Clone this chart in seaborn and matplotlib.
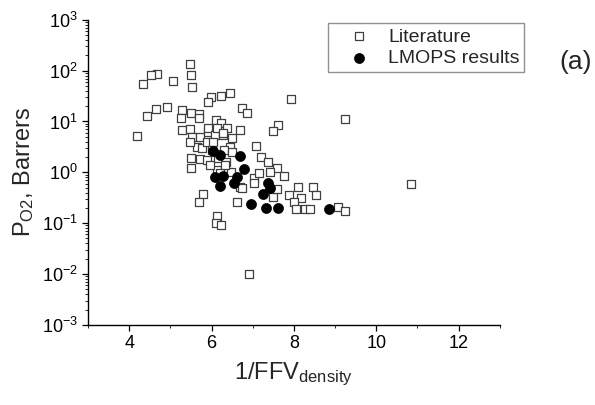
import numpy as np
import pandas as pd
import matplotlib
matplotlib.use("Agg")
import matplotlib.pyplot as plt
from matplotlib.ticker import MultipleLocator, LogLocator, FuncFormatter, NullFormatter
import seaborn as sns

# Literature data: inverse fractional free volume vs O2 permeability (Barrers)
lit_inv_ffv = [
    5.47, 5.49, 5.52, 4.67, 4.53, 4.33, 5.06, 5.98, 5.91, 6.24, 6.44, 7.92,
    6.75, 6.85, 4.91, 4.65, 4.43, 5.28, 5.25, 5.49, 5.69, 5.69, 6.10, 6.24,
    4.19, 5.28, 5.47, 5.52, 5.71, 5.91, 5.91, 6.08, 6.12, 6.37, 6.49, 6.27,
    6.70, 7.62, 7.50, 9.25, 7.07, 6.44, 5.64, 5.76, 7.19, 7.36, 5.49, 5.49,
    5.71, 5.88, 6.15, 6.34, 6.46, 6.12, 6.20, 7.58, 7.41, 7.75, 7.04, 7.14,
    7.04, 6.68, 6.75, 8.11, 8.47, 8.54, 7.87, 8.18, 7.99, 7.50, 7.60, 5.78,
    5.69, 6.61, 8.06, 8.28, 8.40, 9.08, 9.25, 6.12, 6.10, 6.22, 6.90, 10.85,
    5.88, 6.03, 5.47, 6.27, 6.00, 6.29, 5.95, 6.32, 6.49,
]
lit_p_o2 = [
    136, 83, 48, 87, 83, 55, 63, 30.5, 24.4, 32, 36.6, 27.9,
    18.6, 14.8, 19.4, 17.7, 12.9, 16.9, 11.8, 14.8, 14.2, 11.8, 10.8, 9.4,
    5.2, 6.9, 7.2, 5.0, 5.0, 6.3, 7.5, 5.5, 7.5, 7.5, 4.8, 5.5,
    6.9, 8.6, 6.5, 11.3, 3.3, 3.2, 3.2, 3.0, 2.0, 1.6, 1.9, 1.22,
    1.84, 1.76, 1.9, 1.6, 1.02, 1.12, 0.98, 1.22, 1.02, 0.85, 0.78, 0.98,
    0.62, 0.52, 0.50, 0.52, 0.52, 0.36, 0.36, 0.31, 0.26, 0.33, 0.47, 0.38,
    0.26, 0.26, 0.19, 0.19, 0.19, 0.21, 0.17, 0.14, 0.10, 0.093, 0.010, 0.59,
    4.0, 4.0, 4.0, 6.0, 2.8, 2.8, 1.4, 1.4, 2.5,
]

# LMOPS results
lmops_inv_ffv = [6.03, 6.20, 6.68, 6.78, 6.08, 6.27, 6.20, 6.61, 6.54, 7.38,
                 7.43, 7.24, 6.95, 7.33, 7.62, 8.84]
lmops_p_o2 = [2.65, 2.21, 2.11, 1.17, 0.81, 0.85, 0.54, 0.81, 0.62, 0.62,
              0.50, 0.38, 0.24, 0.20, 0.20, 0.19]

x_ticks = [4, 6, 8, 10, 12]
y_decades = [-3, -2, -1, 0, 1, 2, 3]

lit = pd.DataFrame({"inv_ffv": lit_inv_ffv, "p_o2": lit_p_o2})
lmops = pd.DataFrame({"inv_ffv": lmops_inv_ffv, "p_o2": lmops_p_o2})

sns.set_style("ticks")
plt.rcParams["font.family"] = ["Liberation Sans", "DejaVu Sans"]
plt.rcParams["mathtext.default"] = "regular"
plt.rcParams["axes.unicode_minus"] = False

fig = plt.figure(figsize=(5.95, 4.05), dpi=100)
ax = fig.add_axes([0.148, 0.198, 0.692, 0.753])

sns.scatterplot(data=lit, x="inv_ffv", y="p_o2", ax=ax, marker="s", s=34,
                facecolor="white", edgecolor="#404040", linewidth=0.9,
                label="Literature", zorder=2)
sns.scatterplot(data=lmops, x="inv_ffv", y="p_o2", ax=ax, marker="o", s=52,
                color="black", edgecolor="black", linewidth=0.5,
                label="LMOPS results", zorder=3)

ax.set_yscale("log")
ax.set_xlim(3, 13)
ax.set_ylim(10.0 ** y_decades[0], 10.0 ** y_decades[-1])

ax.set_xticks(x_ticks)
ax.xaxis.set_minor_locator(MultipleLocator(1))
ax.set_yticks([10.0 ** d for d in y_decades])
ax.yaxis.set_major_formatter(FuncFormatter(lambda v, p: f"$10^{{{int(round(np.log10(v)))}}}$"))
ax.yaxis.set_minor_locator(LogLocator(base=10, subs=np.arange(2, 10), numticks=20))
ax.yaxis.set_minor_formatter(NullFormatter())

ax.tick_params(axis="both", which="major", direction="out", length=4, width=0.9,
               labelsize=13, colors="black")
ax.tick_params(axis="both", which="minor", direction="out", length=2.2, width=0.7)

for side in ("left", "bottom"):
    ax.spines[side].set_color("black")
    ax.spines[side].set_linewidth(1.0)
sns.despine(ax=ax)

ax.set_xlabel("1/FFV$_{density}$", fontsize=17, labelpad=6)
ax.set_ylabel("P$_{O2}$, Barrers", fontsize=17, labelpad=4)

handles, labels = ax.get_legend_handles_labels()
ax.get_legend().remove()
fig.legend(handles, labels, loc="upper left", bbox_to_anchor=(0.551, 0.943),
           fontsize=14, frameon=True, fancybox=False, edgecolor="#909090",
           framealpha=1, borderpad=0.25, labelspacing=0.2, handlelength=2.7,
           handletextpad=0.15, borderaxespad=0)

fig.text(0.968, 0.847, "(a)", fontsize=19, ha="center", va="center")

fig.savefig("out.png", dpi=100, facecolor="white")
